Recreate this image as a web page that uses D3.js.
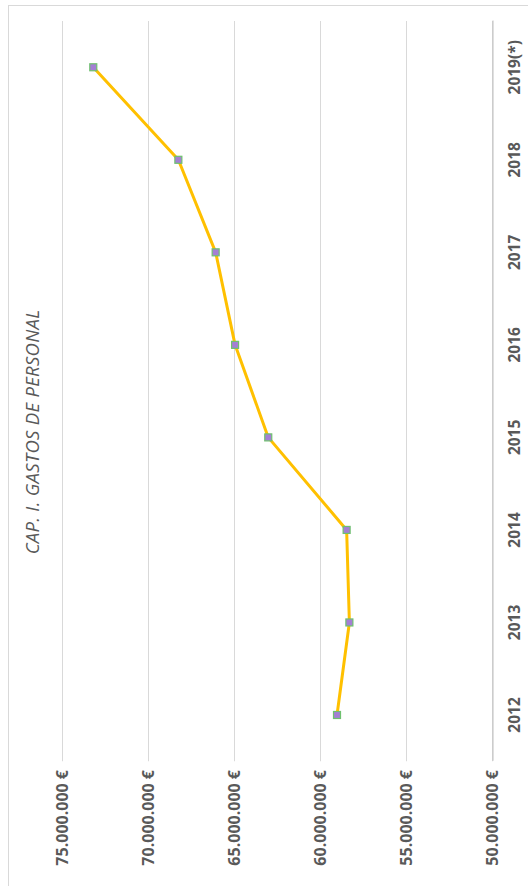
<!DOCTYPE html>
<html>
<head>
<meta charset="utf-8">
<script src="https://cdn.jsdelivr.net/npm/d3@7"></script>
<style>
  html, body { margin: 0; padding: 0; background: #ffffff; }
  svg { display: block; }
</style>
</head>
<body>
<svg id="chart" width="528" height="886"></svg>
<script>
const years = ["2012", "2013", "2014", "2015", "2016", "2017", "2018", "2019(*)"];
const gastos = [59000000, 58280000, 58440000, 63000000, 64930000, 66060000, 68230000, 73180000];
const valueTicks = [50000000, 55000000, 60000000, 65000000, 70000000, 75000000];
const title = "CAP. I. GASTOS DE PERSONAL";

const W = 886, H = 528; // chart drawn unrotated, then rotated -90deg
const svg = d3.select("#chart");
const g = svg.append("g").attr("transform", `translate(0,${W}) rotate(-90)`);

// outer border
g.append("rect")
  .attr("x", -10).attr("y", 8.5)
  .attr("width", 890.5).attr("height", 540)
  .attr("fill", "none").attr("stroke", "#d9d9d9").attr("stroke-width", 1);

const x = d3.scalePoint().domain(years).range([124.75, 865]).padding(0.5);
const xBand = d3.scaleBand().domain(years).range([124.75, 865]);
const y = d3.scaleLinear().domain([50000000, 75000000]).range([491.7, 62]);

const fmt = v => d3.format(",")(v).replace(/,/g, ".") + " €";

// gridlines
g.append("g").selectAll("line").data(valueTicks).join("line")
  .attr("x1", 124.75).attr("x2", 865)
  .attr("y1", d => Math.round(y(d)) + 0.5).attr("y2", d => Math.round(y(d)) + 0.5)
  .attr("stroke", "#d9d9d9").attr("stroke-width", 1);

// category axis
const xAxis = d3.axisBottom(xBand).tickSize(0).tickPadding(0);
const ax = g.append("g").attr("transform", `translate(0,${Math.round(y(50000000)) + 0.5})`).call(xAxis);
ax.select(".domain").attr("stroke", "#bfbfbf").attr("stroke-width", 1);
ax.selectAll("text")
  .attr("y", 27).attr("dy", 0)
  .attr("font-family", "'Open Sans', sans-serif")
  .attr("font-weight", "bold").attr("font-size", 15.5)
  .attr("fill", "#595959");

// value axis labels
const yAxis = d3.axisLeft(y).tickValues(valueTicks).tickFormat(fmt).tickSize(0).tickPadding(0);
const ay = g.append("g").attr("transform", "translate(116,0)").call(yAxis);
ay.select(".domain").remove();
ay.selectAll("text")
  .attr("x", 0).attr("dy", "0.36em")
  .attr("text-anchor", "end")
  .attr("font-family", "'Open Sans', sans-serif")
  .attr("font-weight", "bold").attr("font-size", 16)
  .attr("fill", "#595959");

// line
const line = d3.line().x((d, i) => x(years[i])).y(d => y(d));
g.append("path").datum(gastos)
  .attr("d", line)
  .attr("fill", "none").attr("stroke", "#ffc000")
  .attr("stroke-width", 3).attr("stroke-linejoin", "round");

// markers
g.append("g").selectAll("rect").data(gastos).join("rect")
  .attr("x", (d, i) => x(years[i]) - 3.5)
  .attr("y", d => y(d) - 3.5)
  .attr("width", 7).attr("height", 7)
  .attr("fill", "#a47fd4").attr("stroke", "#6fc16f").attr("stroke-width", 1.2);

// title
g.append("text")
  .attr("x", 454).attr("y", 39)
  .attr("text-anchor", "middle")
  .attr("font-family", "'Open Sans', sans-serif")
  .attr("font-style", "italic").attr("font-size", 18.5)
  .attr("letter-spacing", 0.3)
  .attr("fill", "#595959")
  .text(title);
</script>
</body>
</html>
